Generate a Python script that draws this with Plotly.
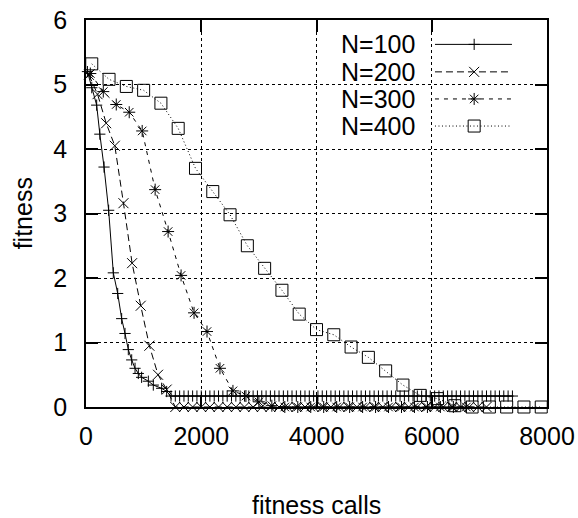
import plotly.graph_objects as go

# ---------------- data ----------------
x_n100 = [25, 100, 185, 240, 313, 393, 474, 550, 619, 677, 734, 793, 851, 908, 965, 1082, 1168, 1313, 1400,
          1475, 1550, 1625, 1700, 1775, 1850, 1925, 2000, 2075, 2150, 2225, 2300, 2375, 2450, 2525, 2600,
          2675, 2750, 2825, 2900, 2975, 3050, 3125, 3200, 3275, 3350, 3425, 3500, 3575, 3650, 3725, 3800,
          3875, 3950, 4025, 4100, 4175, 4250, 4325, 4400, 4475, 4550, 4625, 4700, 4775, 4850, 4925, 5000,
          5075, 5150, 5225, 5300, 5375, 5450, 5525, 5600, 5675, 5750, 5825, 5900, 5975, 6050, 6125, 6200,
          6275, 6350, 6425, 6500, 6575, 6650, 6725, 6800, 6875, 6950, 7025, 7100, 7175, 7250, 7325, 7400, 7475]
y_n100 = [5.20, 4.95, 4.68, 4.23, 3.72, 3.05, 2.08, 1.76, 1.37, 1.14, 0.89, 0.73, 0.60, 0.52, 0.46, 0.40, 0.34, 0.29, 0.24,
          0.17, 0.17, 0.17, 0.17, 0.17, 0.17, 0.17, 0.17, 0.17, 0.17, 0.17, 0.17, 0.17, 0.17, 0.17, 0.17,
          0.17, 0.17, 0.17, 0.17, 0.17, 0.17, 0.17, 0.17, 0.17, 0.17, 0.17, 0.17, 0.17, 0.17, 0.17, 0.17,
          0.17, 0.17, 0.17, 0.17, 0.17, 0.17, 0.17, 0.17, 0.17, 0.17, 0.17, 0.17, 0.17, 0.17, 0.17, 0.17,
          0.17, 0.17, 0.17, 0.17, 0.17, 0.17, 0.17, 0.17, 0.17, 0.17, 0.17, 0.17, 0.17, 0.17, 0.17, 0.17,
          0.17, 0.17, 0.17, 0.17, 0.17, 0.17, 0.17, 0.17, 0.17, 0.17, 0.17, 0.17, 0.17, 0.17, 0.17, 0.17]

x_n200 = [50, 200, 350, 500, 650, 800, 950, 1100, 1250, 1400,
          1550, 1700, 1850, 2000, 2150, 2300, 2450, 2600, 2750, 2900, 3050, 3200, 3350, 3500, 3650,
          3800, 3950, 4100, 4250, 4400, 4550, 4700, 4850, 5000, 5150, 5300, 5450, 5600, 5750, 5900,
          6050, 6200, 6350, 6500, 6650, 6800, 6950]
y_n200 = [5.15, 4.85, 4.40, 4.05, 3.16, 2.23, 1.57, 0.95, 0.50, 0.27,
          0, 0, 0, 0, 0, 0, 0, 0, 0, 0, 0, 0, 0, 0, 0,
          0, 0, 0, 0, 0, 0, 0, 0, 0, 0, 0, 0, 0, 0, 0,
          0, 0, 0, 0, 0, 0, 0]

x_n300 = [75, 300, 525, 750, 975, 1200, 1425, 1650, 1875, 2100, 2325, 2550, 2775, 3000, 3225,
          3450, 3675, 3900, 4125, 4350, 4575, 4800, 5025, 5250, 5475, 5700, 5925, 6150, 6375, 6600]
y_n300 = [5.17, 4.89, 4.69, 4.57, 4.28, 3.37, 2.72, 2.04, 1.46, 1.17, 0.60, 0.25, 0.17, 0.08, 0.02,
          0, 0, 0, 0, 0, 0, 0, 0, 0, 0, 0, 0, 0, 0, 0]

x_n400 = [100, 400, 700, 1000, 1300, 1600, 1900, 2200, 2500, 2800, 3100, 3400, 3700, 4000,
          4300, 4600, 4900, 5200, 5500, 5800, 6100, 6400, 6700, 7000, 7300, 7600, 7900]
y_n400 = [5.32, 5.08, 4.97, 4.91, 4.71, 4.32, 3.70, 3.34, 2.98, 2.50, 2.15, 1.81, 1.44, 1.20,
          1.12, 0.93, 0.77, 0.56, 0.34, 0.18, 0.13, 0.02, 0, 0, 0, 0, 0]

series_names = ["N=100", "N=200", "N=300", "N=400"]
x_ticks = [0, 2000, 4000, 6000, 8000]
y_ticks = [0, 1, 2, 3, 4, 5, 6]

# ---------------- styles ----------------
FONT = "Liberation Sans, Arial, Helvetica, sans-serif"
FS = 25
styles = [
    dict(dash="solid", symbol="cross-thin-open", size=8),
    dict(dash="7px,4px", symbol="x-thin-open", size=10),
    dict(dash="4px,5px", symbol="asterisk-open", size=10),
    dict(dash="1px,2.5px", symbol="square-open", size=12),
]
data = [(x_n100, y_n100), (x_n200, y_n200), (x_n300, y_n300), (x_n400, y_n400)]

fig = go.Figure()
for (xs, ys), st in zip(data, styles):
    fig.add_trace(go.Scatter(
        x=xs, y=ys, mode="lines+markers", cliponaxis=False, showlegend=False,
        line=dict(color="black", width=1, dash=st["dash"]),
        marker=dict(symbol=st["symbol"], size=st["size"], color="black",
                    line=dict(color="black", width=1)),
    ))

# ---------------- custom legend (text left, sample right) ----------------
leg_text_x = 0.718
leg_line_x = [0.757, 0.924]
leg_mark_x = 0.842
leg_rows_y = [0.937, 0.866, 0.796, 0.726]
for name, st, ly in zip(series_names, styles, leg_rows_y):
    fig.add_trace(go.Scatter(
        x=leg_line_x, y=[ly, ly], xaxis="x2", yaxis="y2", mode="lines", showlegend=False,
        line=dict(color="black", width=1, dash=st["dash"]), hoverinfo="skip"))
    fig.add_trace(go.Scatter(
        x=[leg_mark_x], y=[ly], xaxis="x2", yaxis="y2", mode="markers", showlegend=False,
        marker=dict(symbol=st["symbol"], size=st["size"], color="black",
                    line=dict(color="black", width=1)), hoverinfo="skip"))
    fig.add_annotation(text=name, x=leg_text_x, y=ly, xref="paper", yref="paper",
                       xanchor="right", yanchor="middle", showarrow=False,
                       font=dict(family=FONT, size=FS, color="black"))

axis_common = dict(
    showline=True, linecolor="black", linewidth=1.5, mirror="ticks",
    ticks="inside", ticklen=12, tickwidth=1.5, tickcolor="black",
    showgrid=True, gridcolor="black", griddash="dot", gridwidth=1,
    zeroline=False, tickfont=dict(family=FONT, size=FS, color="black"),
)
fig.update_layout(
    width=578, height=518,
    margin=dict(l=86, r=31, t=20, b=111, autoexpand=False),
    paper_bgcolor="white", plot_bgcolor="white",
    xaxis=dict(range=[0, 8000], tickvals=x_ticks, ticklabelstandoff=6, **axis_common),
    yaxis=dict(range=[0, 6], tickvals=y_ticks, ticklabelstandoff=12, **axis_common),
    xaxis2=dict(range=[0, 1], overlaying="x", visible=False),
    yaxis2=dict(range=[0, 1], overlaying="y", visible=False),
)
fig.add_annotation(text="fitness calls", x=0.5, y=-0.253, xref="paper", yref="paper",
                   xanchor="center", yanchor="middle", showarrow=False,
                   font=dict(family=FONT, size=FS, color="black"))
fig.add_annotation(text="fitness", x=-0.137, y=0.5, xref="paper", yref="paper",
                   xanchor="center", yanchor="middle", showarrow=False, textangle=-90,
                   font=dict(family=FONT, size=FS, color="black"))

fig.write_html("out.html")
